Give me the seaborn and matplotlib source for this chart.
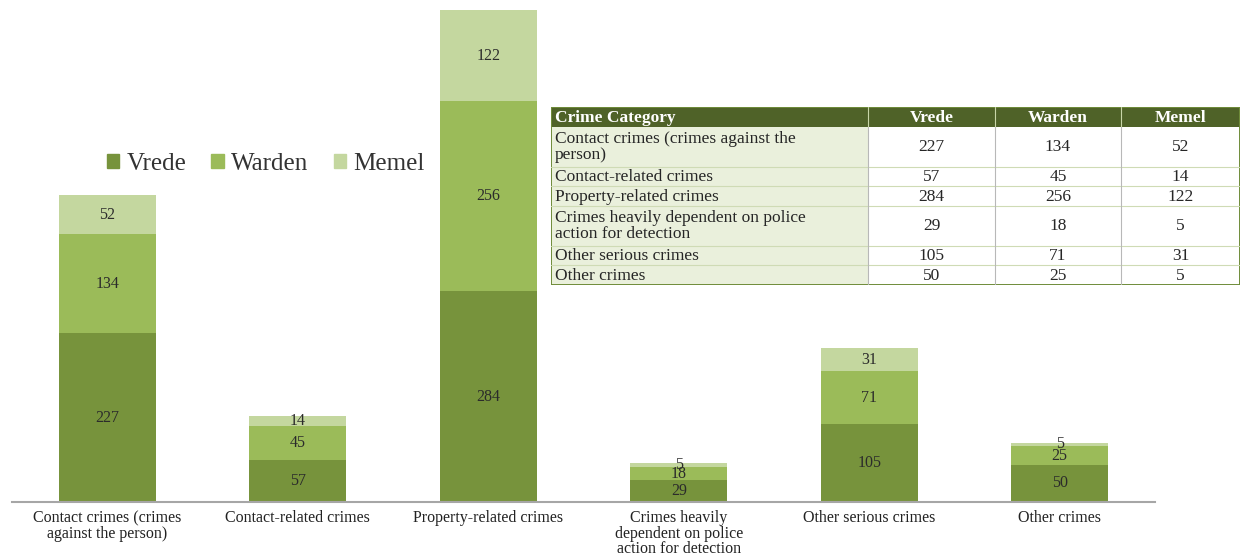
import matplotlib
matplotlib.use("Agg")
import matplotlib.pyplot as plt
import matplotlib.patches as mpatches
import numpy as np
import pandas as pd
import seaborn as sns

# ---- data -------------------------------------------------------------
categories = [
    "Contact crimes (crimes\nagainst the person)",
    "Contact-related crimes",
    "Property-related crimes",
    "Crimes heavily\ndependent on police\naction for detection",
    "Other serious crimes",
    "Other crimes",
]
table_labels = [
    "Contact crimes (crimes against the\nperson)",
    "Contact-related crimes",
    "Property-related crimes",
    "Crimes heavily dependent on police\naction for detection",
    "Other serious crimes",
    "Other crimes",
]
series_names = ["Vrede", "Warden", "Memel"]
vrede = [227, 57, 284, 29, 105, 50]
warden = [134, 45, 256, 18, 71, 25]
memel = [52, 14, 122, 5, 31, 5]

colors = {"Vrede": "#77933c", "Warden": "#9bbb59", "Memel": "#c4d79f"}

# ---- setup ------------------------------------------------------------
sns.set_theme(style="white")
plt.rcParams["font.family"] = ["Liberation Serif", "DejaVu Serif"]

W, H = 1244, 559
fig = plt.figure(figsize=(W / 100, H / 100), dpi=100)

# bar chart axes (pixel-based placement)
ax_l, ax_r, ax_top, ax_base = 12, 1155, 0, 502
ax = fig.add_axes([ax_l / W, (H - ax_base) / H, (ax_r - ax_l) / W, (ax_base - ax_top) / H])

values = {"Vrede": np.array(vrede), "Warden": np.array(warden), "Memel": np.array(memel)}
cum = np.zeros(len(categories))
stacks = []
for name in series_names:
    bottom = cum.copy()
    cum = cum + values[name]
    stacks.append((name, bottom, cum.copy()))

# draw cumulative totals from the tallest down so each layer shows as a segment
for name, bottom, top in reversed(stacks):
    df = pd.DataFrame({"category": categories, "total": top})
    sns.barplot(data=df, x="category", y="total", order=categories,
                color=colors[name], width=0.51, saturation=1,
                linewidth=0, ax=ax)

# segment value labels
for name, bottom, top in stacks:
    for i, (b, t) in enumerate(zip(bottom, top)):
        ax.text(i, (b + t) / 2, f"{int(t - b)}", ha="center", va="center",
                fontsize=11.5, color="#2b2b2b")

ax.set_xlim(-0.5, 5.5)
ax.set_ylim(0, 676)
ax.set_xlabel("")
ax.set_ylabel("")
ax.set_yticks([])
ax.tick_params(axis="x", length=0, pad=6, labelsize=11.5, labelcolor="#222222")
for lbl in ax.get_xticklabels():
    lbl.set_linespacing(0.95)
for s in ["top", "right", "left"]:
    ax.spines[s].set_visible(False)
ax.spines["bottom"].set_color("#a6a6a6")
ax.spines["bottom"].set_linewidth(1.5)
if ax.get_legend() is not None:
    ax.get_legend().remove()

# legend
handles = [mpatches.Patch(color=colors[n], label=n) for n in series_names]
fig.legend(handles=handles, loc="center left", bbox_to_anchor=(84 / W, 1 - 164 / H),
           ncol=3, frameon=False, fontsize=18, handlelength=0.5, handleheight=0.5,
           handletextpad=0.3, columnspacing=1.0, labelcolor="#333333")

# ---- data table -------------------------------------------------------
t_left, t_right, t_top, t_bottom = 551, 1240, 107, 285
col_edges = [551, 868, 995, 1121, 1240]
header_h = 20
line_counts = [lbl.count("\n") + 1 for lbl in table_labels]
line_h = (t_bottom - t_top - header_h) / sum(line_counts)

tax = fig.add_axes([t_left / W, (H - t_bottom) / H, (t_right - t_left) / W, (t_bottom - t_top) / H])
tax.set_xlim(t_left, t_right)
tax.set_ylim(t_bottom, t_top)
tax.axis("off")

header_color = "#4f6228"
tax.add_patch(mpatches.Rectangle((t_left, t_top), t_right - t_left, header_h,
                                 facecolor=header_color, edgecolor="none"))
headers = ["Crime Category"] + series_names
for j, txt in enumerate(headers):
    x0, x1 = col_edges[j], col_edges[j + 1]
    if j == 0:
        tax.text(x0 + 4, t_top + header_h / 2 + 1, txt, ha="left", va="center",
                 color="white", fontsize=12.5, fontweight="bold")
    else:
        tax.text((x0 + x1) / 2, t_top + header_h / 2 + 1, txt, ha="center", va="center",
                 color="white", fontsize=12.5, fontweight="bold")
    if j > 0:
        tax.plot([x0, x0], [t_top, t_top + header_h], color="#c9d6a8", lw=0.8)

y = t_top + header_h
for r, lbl in enumerate(table_labels):
    h = line_counts[r] * line_h
    tax.add_patch(mpatches.Rectangle((col_edges[0], y), col_edges[1] - col_edges[0], h,
                                     facecolor="#eaf0dc", edgecolor="none"))
    tax.text(col_edges[0] + 4, y + h / 2 + 0.5, lbl, ha="left", va="center",
             fontsize=12.5, color="#262626", linespacing=1.0)
    for j, name in enumerate(series_names):
        x0, x1 = col_edges[j + 1], col_edges[j + 2]
        tax.text((x0 + x1) / 2, y + h / 2 + 0.5, str(values[name][r]), ha="center",
                 va="center", fontsize=12.5, color="#262626")
    if r > 0:
        tax.plot([t_left, t_right], [y, y], color="#cfdbb5", lw=0.8)
    y += h

for x in col_edges[1:-1]:
    tax.plot([x, x], [t_top + header_h, t_bottom], color="#b8b8b8", lw=0.8)
tax.add_patch(mpatches.Rectangle((t_left, t_top), t_right - t_left, t_bottom - t_top,
                                 facecolor="none", edgecolor="#6f8c3a", lw=1.4))

fig.savefig("out.png", dpi=100, facecolor="white")
